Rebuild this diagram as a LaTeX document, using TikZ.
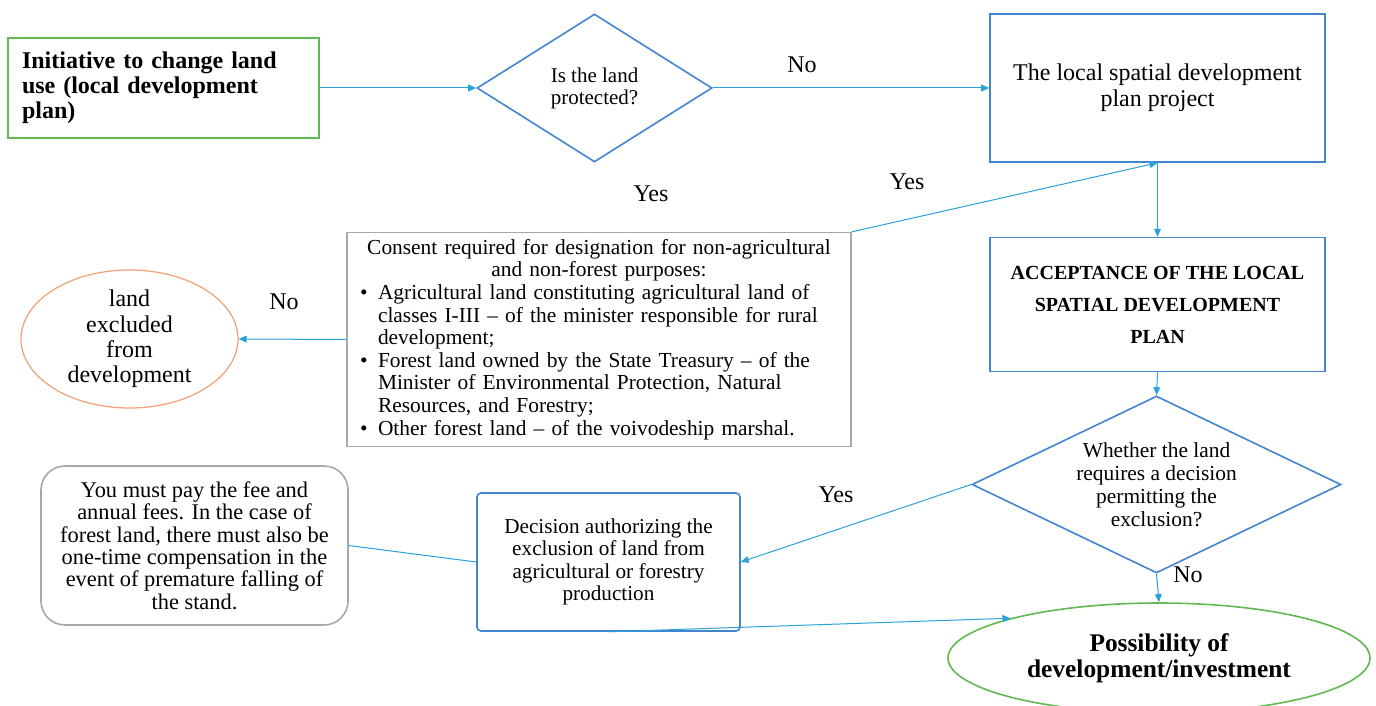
\documentclass[tikz,border=0pt]{standalone}
\usepackage{fontspec}
\setmainfont{Liberation Serif}
\usetikzlibrary{
  arrows.meta, % for arrow tips
  shapes.geometric, % for diamond and ellipse nodes
  positioning, % for relative node positioning
}
\definecolor{flow-blue}{RGB}{41, 161, 221}
\definecolor{box-blue}{RGB}{66, 133, 208}
\definecolor{box-green}{RGB}{96, 186, 80}
\definecolor{box-orange}{RGB}{240, 160, 118}
\definecolor{box-gray}{RGB}{168, 168, 168}
\newcommand{\consentitem}[1]{%
  \par\hangindent=12.5pt\hangafter=1\noindent
  \hspace*{3.5pt}\makebox[9pt][l]{\textbullet}#1\par}

\begin{document}
\begin{tikzpicture}[
    x=0.5pt, y=-0.5pt, % one unit is one pixel of the sketch
    font=\fontsize{12}{13}\selectfont,
    flowbox/.style={draw=box-blue, line width=0.8pt, align=center, inner sep=2pt},
    question/.style={diamond, draw=box-blue, line width=0.8pt, align=center, inner sep=0pt},
    notebox/.style={draw=box-gray, line width=0.8pt},
    flow/.style={draw=flow-blue, line width=0.5pt, -{Triangle[length=4pt, width=3.4pt]}},
    answer/.style={inner sep=0pt, font=\fontsize{12}{13}\selectfont},
  ]
  \useasboundingbox (0,0) rectangle (1376,706);

  % top row
  \node[draw=box-green, line width=0.8pt, minimum width=155.5pt, minimum height=50pt,
    text width=141.5pt, inner xsep=7pt, align=left,
    font=\fontsize{12}{12.5}\selectfont\bfseries] (init) at (163.5,88)
    {Initiative to change land\\ use (local development\\ plan)};
  \node[question, minimum width=117.5pt, minimum height=74pt,
    font=\fontsize{10.5}{11}\selectfont] (protected) at (594.5,88)
    {Is the land\\ protected?};
  \node[flowbox, minimum width=167.5pt, minimum height=74pt,
    font=\fontsize{12}{13}\selectfont] (plan) at (1157.5,88)
    {The local spatial development\\ plan project};

  % right column
  \node[flowbox, minimum width=167.5pt, minimum height=67pt, below=37pt of plan,
    font=\fontsize{10}{16}\selectfont\bfseries] (accept)
    {ACCEPTANCE OF THE LOCAL\\ SPATIAL DEVELOPMENT\\ PLAN};
  \node[question, shape aspect=2.08, minimum width=184.5pt, minimum height=88.5pt,
    font=\fontsize{10.7}{11.5}\selectfont] (exclusion) at (1156.5,484.5)
    {Whether the land\\ requires a decision\\ permitting the\\ exclusion?};
  \node[ellipse, draw=box-green, line width=0.8pt, minimum width=211pt, minimum height=55pt,
    align=center, font=\fontsize{12.7}{13}\selectfont\bfseries] (possible) at (1159,658)
    {Possibility of\\ development/investment};

  % middle row
  \node[notebox, minimum width=252pt, minimum height=103.5pt, text width=246pt,
    inner xsep=3pt, align=left, font=\fontsize{10.7}{11.3}\selectfont] (consent) at (599,339.5)
    {{\centering Consent required for designation for non-agricultural\\
      and non-forest purposes:\par}%
     \raggedright
     \consentitem{Agricultural land constituting agricultural land of\newline
       classes I-III -- of the minister responsible for rural\newline development;}%
     \consentitem{Forest land owned by the State Treasury -- of the\newline
       Minister of Environmental Protection, Natural\newline Resources, and Forestry;}%
     \consentitem{Other forest land -- of the voivodeship marshal.}};
  \node[ellipse, draw=box-orange, line width=0.6pt, minimum width=108.5pt, minimum height=69pt,
    inner sep=0pt, align=center, font=\fontsize{12}{12.6}\selectfont] (excluded) at (129.5,339)
    {land\\ excluded\\ from\\ development};

  % bottom row
  \node[flowbox, rounded corners=2pt, minimum width=131.5pt, minimum height=69pt,
    font=\fontsize{10.6}{11.2}\selectfont] (decision) at (608.5,562)
    {Decision authorizing the\\ exclusion of land from\\ agricultural or forestry\\ production};
  \node[notebox, rounded corners=12pt, minimum width=153.5pt, minimum height=79.5pt,
    align=center, font=\fontsize{11.2}{11.2}\selectfont] (fee) at (194.5,545.5)
    {You must pay the fee and\\ annual fees. In the case of\\ forest land, there must also be\\
     one-time compensation in the\\ event of premature falling of\\ the stand.};

  % connectors
  \draw[flow] (init.east) -- (protected.west);
  \draw[flow] (protected.east) -- (plan.west);
  \draw[flow] (consent.north east) -- (plan.south);
  \draw[flow] (plan.south) -- (accept.north);
  \draw[flow] (accept.south) -- (exclusion.north);
  \draw[flow] (exclusion.south) -- (possible.north);
  \draw[flow] (exclusion.west) -- (decision.east);
  \draw[flow] (decision.south) -- (possible.165);
  \draw[flow] (consent.west) -- (excluded.east);
  \draw[draw=flow-blue, line width=0.5pt] (decision.west) -- (fee.east);

  % answers
  \node[answer] (no-plan) at (802,65) {No};
  \node[answer] (yes-consent) at (651,194) {Yes};
  \node[answer] (yes-plan) at (907,182) {Yes};
  \node[answer] (no-excluded) at (284,302) {No};
  \node[answer] (yes-decision) at (836,495) {Yes};
  \node[answer] (no-possible) at (1188,575) {No};
\end{tikzpicture}
\end{document}
